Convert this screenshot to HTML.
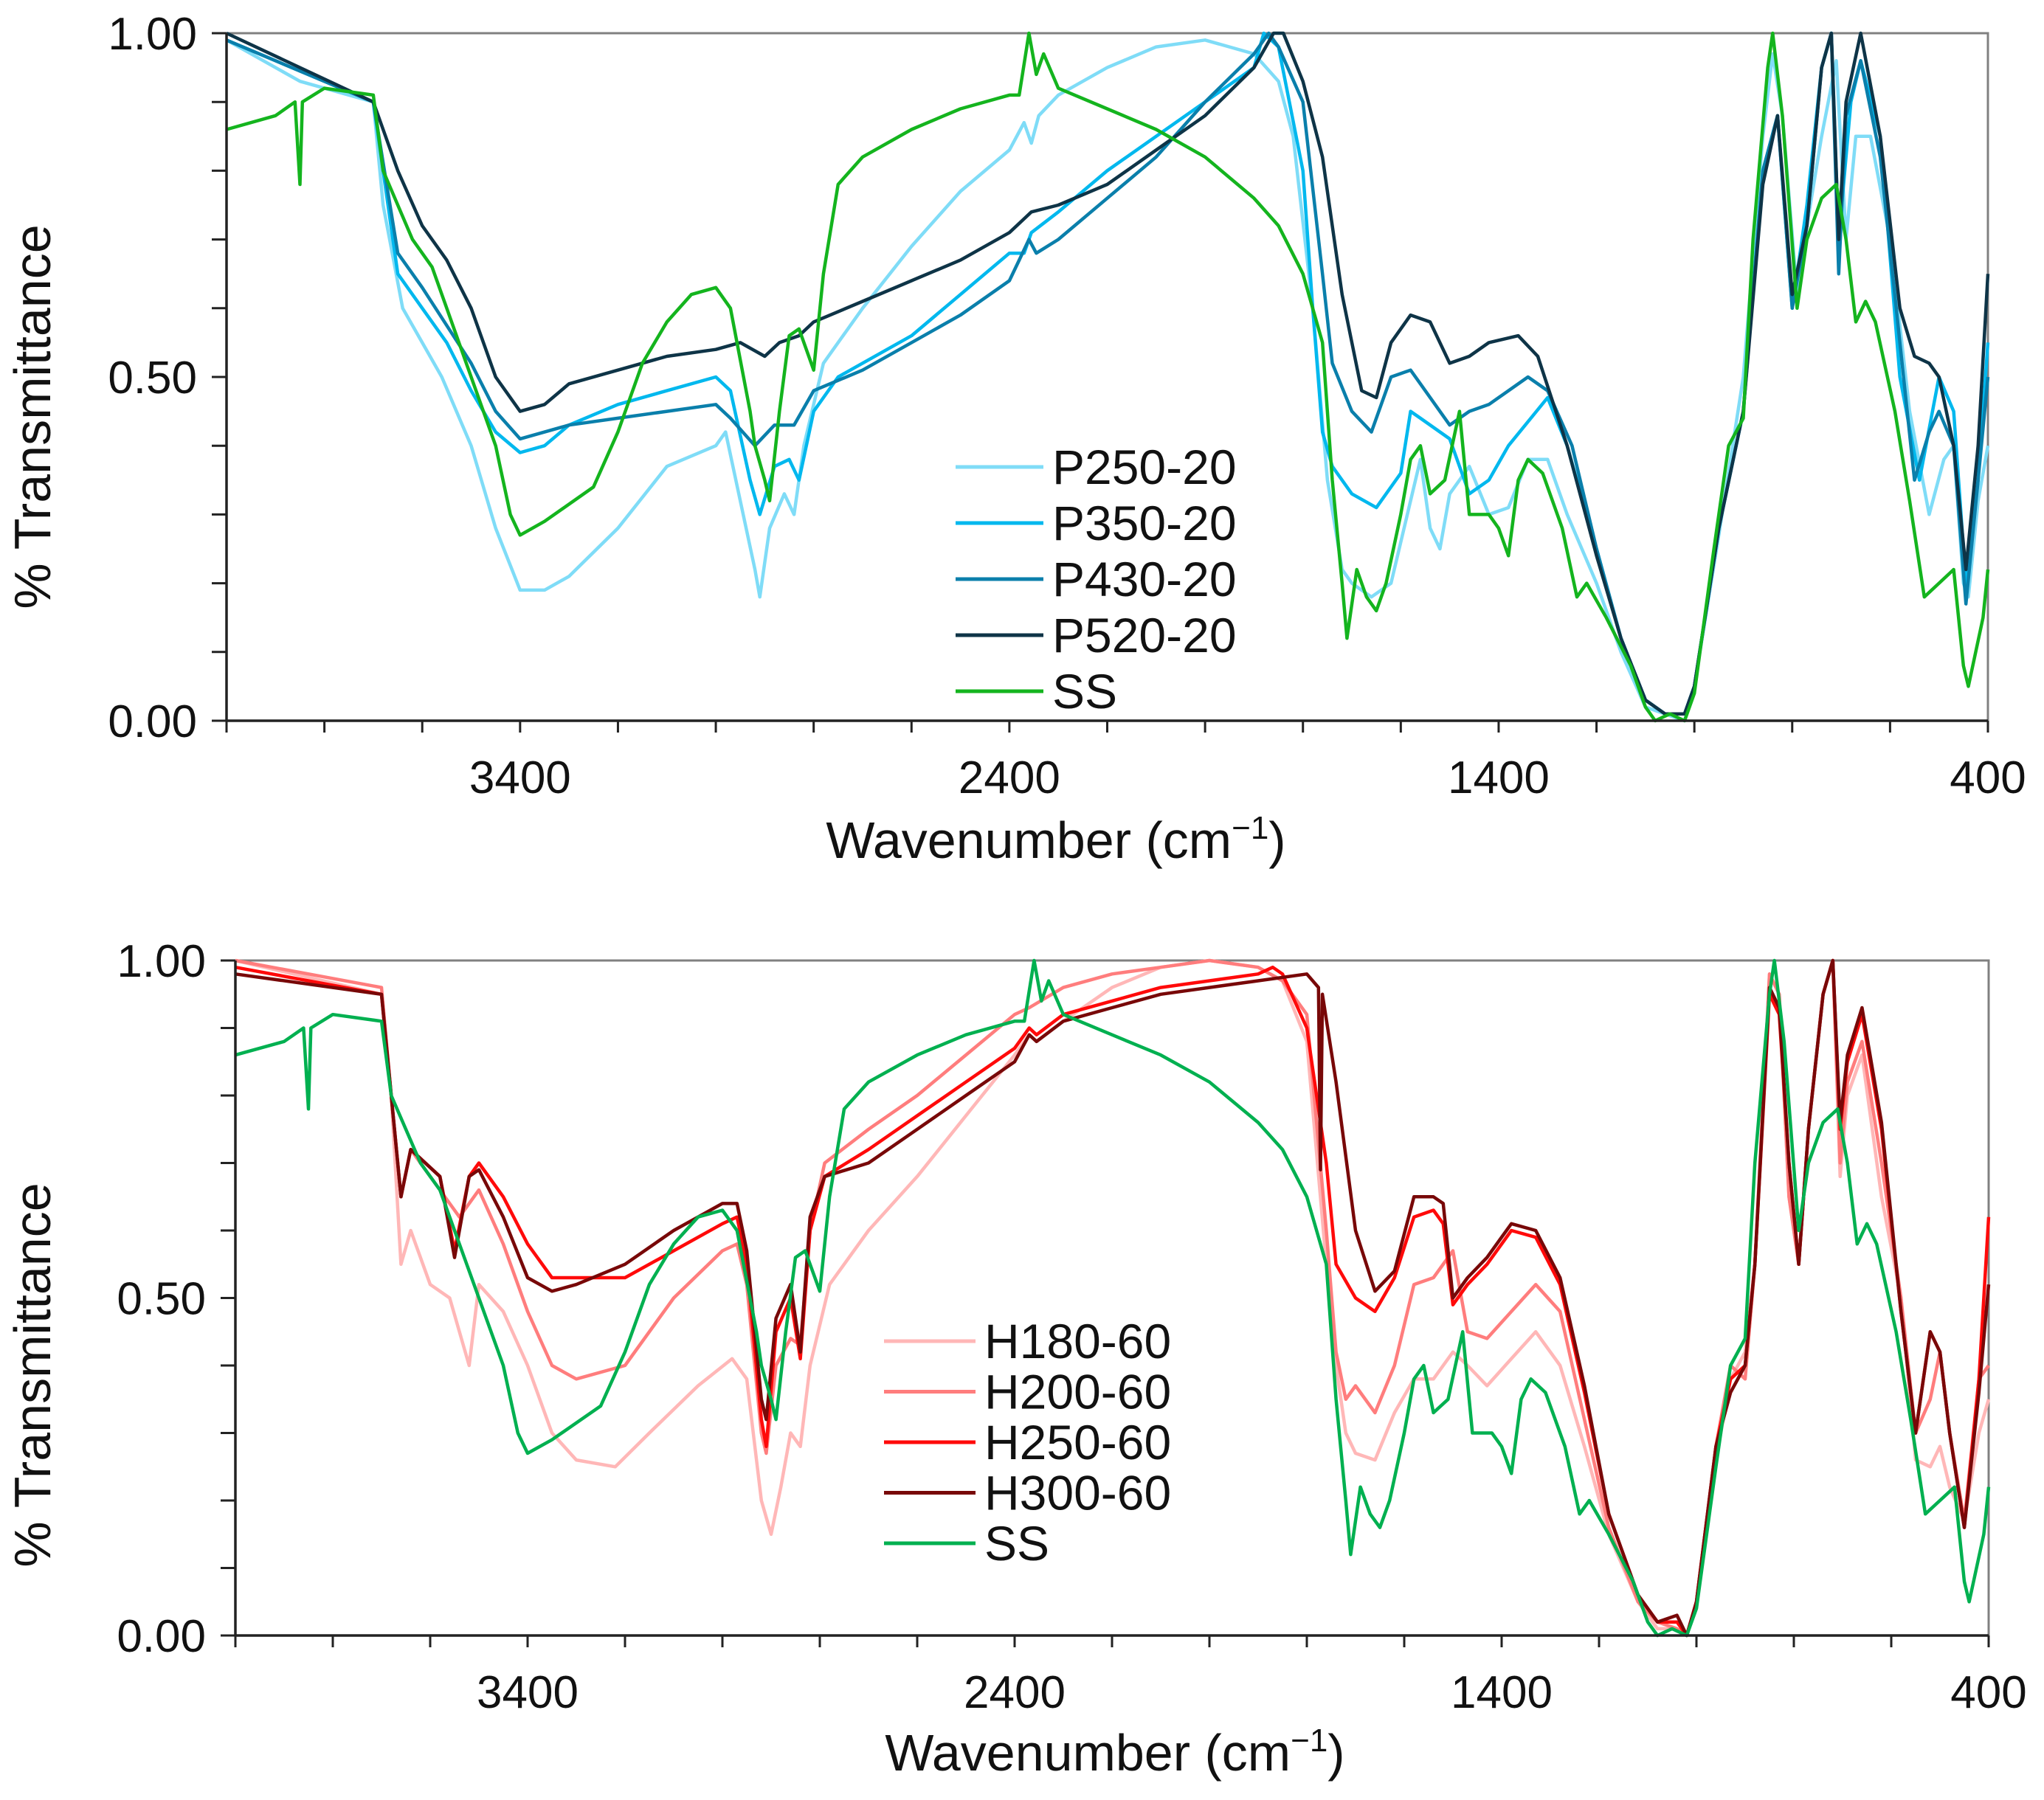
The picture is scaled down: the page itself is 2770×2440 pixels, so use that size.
<!DOCTYPE html>
<html><head><meta charset="utf-8">
<style>
html,body{margin:0;padding:0;background:#fff;}
svg{display:block;font-family:"Liberation Sans",Arial,sans-serif;}
</style></head>
<body>
<svg id="chart" width="2770" height="2440" viewBox="0 0 2770 2440" xmlns="http://www.w3.org/2000/svg"></svg>
<script>
// ---- data: wavenumbers and transmittance per series ----
const ssWn = [4000,3900,3860,3850,3845,3800,3700,3680,3650,3620,3580,3550,3500,3450,3420,3400,3350,3250,3200,3150,3100,3050,3000,2970,2930,2920,2900,2890,2870,2850,2830,2800,2780,2750,2700,2600,2500,2400,2380,2360,2345,2330,2300,2200,2100,2000,1900,1850,1800,1760,1740,1720,1710,1690,1670,1650,1630,1600,1580,1560,1540,1510,1480,1460,1420,1400,1380,1360,1340,1310,1270,1240,1220,1180,1130,1100,1080,1050,1020,1000,960,930,900,880,850,840,820,790,770,740,710,690,670,650,630,590,560,530,500,470,450,440,410,400];
const ssT  = [.86,.88,.90,.78,.90,.92,.91,.80,.75,.70,.66,.60,.50,.40,.30,.27,.29,.34,.42,.52,.58,.62,.63,.60,.45,.40,.35,.32,.45,.56,.57,.51,.65,.78,.82,.86,.89,.91,.91,1.0,.94,.97,.92,.89,.86,.82,.76,.72,.65,.55,.35,.20,.12,.22,.18,.16,.20,.30,.38,.40,.33,.35,.45,.30,.30,.28,.24,.35,.38,.36,.28,.18,.20,.15,.08,.02,0,.01,0,.04,.25,.40,.44,.70,.95,1.0,.88,.60,.70,.76,.78,.70,.58,.61,.58,.45,.32,.18,.20,.22,.08,.05,.15,.22];

const p250Wn = [4000,3850,3700,3680,3640,3600,3560,3500,3450,3400,3350,3300,3200,3100,3000,2980,2950,2920,2910,2890,2860,2840,2820,2780,2700,2600,2500,2400,2370,2355,2340,2300,2200,2100,2000,1900,1850,1820,1780,1750,1720,1700,1660,1620,1580,1560,1540,1520,1500,1460,1420,1380,1340,1300,1260,1200,1150,1100,1060,1020,1000,950,900,860,840,820,790,770,740,710,690,670,640,600,560,520,490,470,450,440,420,400];
const p250T  = [.99,.93,.90,.75,.60,.55,.50,.40,.28,.19,.19,.21,.28,.37,.40,.42,.32,.22,.18,.28,.33,.30,.40,.52,.60,.69,.77,.83,.87,.84,.88,.91,.95,.98,.99,.97,.93,.85,.60,.35,.22,.20,.18,.20,.32,.38,.28,.25,.33,.37,.30,.31,.38,.38,.30,.20,.10,.02,.01,0,.05,.27,.50,.85,.97,.88,.62,.72,.85,.96,.70,.85,.85,.70,.45,.30,.38,.40,.20,.18,.32,.40];

const p350Wn = [4000,3700,3650,3600,3550,3500,3450,3400,3350,3300,3200,3100,3000,2970,2930,2910,2880,2850,2830,2800,2750,2600,2500,2400,2370,2355,2300,2200,2000,1900,1880,1850,1800,1780,1760,1740,1700,1650,1600,1580,1560,1500,1460,1420,1380,1300,1260,1200,1150,1100,1060,1020,1000,950,900,860,830,800,770,740,720,705,680,660,620,580,540,500,470,445,420,400];
const p350T  = [.99,.90,.65,.60,.55,.48,.42,.39,.40,.43,.46,.48,.50,.48,.35,.30,.37,.38,.35,.45,.50,.56,.62,.68,.68,.71,.74,.80,.90,.95,1.0,.98,.80,.60,.42,.37,.33,.31,.36,.45,.44,.41,.33,.35,.40,.47,.40,.25,.12,.03,.01,.01,.05,.28,.45,.80,.88,.60,.75,.95,1.0,.70,.90,.96,.85,.50,.35,.50,.45,.20,.35,.55];

const p430Wn = [4000,3700,3650,3600,3500,3450,3400,3350,3300,3200,3100,3000,2970,2920,2880,2840,2800,2700,2600,2500,2400,2380,2360,2345,2300,2200,2100,2000,1900,1870,1850,1800,1760,1740,1700,1660,1620,1580,1560,1500,1460,1420,1340,1300,1250,1200,1150,1100,1060,1020,1000,950,900,860,830,800,770,740,720,705,690,660,620,580,550,520,500,470,445,420,400];
const p430T  = [.99,.90,.68,.63,.52,.45,.41,.42,.43,.44,.45,.46,.44,.40,.43,.43,.48,.51,.55,.59,.64,.67,.70,.68,.70,.76,.82,.90,.97,1.0,.98,.90,.65,.52,.45,.42,.50,.51,.49,.43,.45,.46,.50,.48,.40,.25,.12,.03,.01,.01,.05,.28,.45,.80,.88,.60,.72,.95,1.0,.65,.88,.96,.82,.55,.35,.42,.45,.40,.17,.35,.50];

const p520Wn = [4000,3700,3650,3600,3550,3500,3450,3400,3350,3300,3200,3100,3000,2950,2900,2870,2830,2800,2700,2600,2500,2400,2370,2355,2300,2200,2100,2000,1900,1860,1840,1800,1760,1720,1680,1650,1620,1580,1540,1500,1460,1420,1360,1320,1260,1200,1150,1100,1060,1020,1000,950,900,860,830,800,770,740,720,705,690,660,620,580,550,520,500,470,445,420,400];
const p520T  = [1.0,.90,.80,.72,.67,.60,.50,.45,.46,.49,.51,.53,.54,.55,.53,.55,.56,.58,.61,.64,.67,.71,.73,.74,.75,.78,.83,.88,.95,1.0,1.0,.93,.82,.62,.48,.47,.55,.59,.58,.52,.53,.55,.56,.53,.40,.24,.12,.03,.01,.01,.05,.28,.45,.78,.88,.62,.72,.95,1.0,.70,.90,1.0,.85,.60,.53,.52,.50,.40,.22,.40,.65];

const h180Wn = [4000,3700,3680,3660,3640,3600,3560,3520,3500,3450,3400,3350,3300,3220,3150,3050,2980,2950,2920,2900,2880,2860,2840,2820,2780,2700,2600,2500,2400,2370,2355,2300,2200,2100,2000,1900,1850,1800,1760,1740,1720,1700,1660,1620,1580,1540,1500,1470,1430,1380,1330,1280,1230,1180,1120,1080,1040,1020,1000,960,930,900,880,850,830,810,790,770,740,720,705,690,660,620,580,550,520,500,480,450,420,400];
const h180T  = [1.0,.95,.80,.55,.60,.52,.50,.40,.52,.48,.40,.30,.26,.25,.30,.37,.41,.38,.20,.15,.22,.30,.28,.40,.52,.60,.68,.77,.86,.89,.88,.91,.96,.99,1.0,.99,.97,.88,.55,.40,.30,.27,.26,.33,.38,.38,.42,.40,.37,.41,.45,.40,.28,.15,.05,.01,.01,0,.05,.26,.38,.42,.55,.98,.95,.65,.55,.75,.95,1.0,.68,.80,.86,.65,.50,.26,.25,.28,.22,.17,.30,.35];

const h200Wn = [4000,3700,3680,3660,3640,3580,3540,3500,3450,3400,3350,3300,3200,3100,3000,2970,2950,2920,2910,2890,2860,2840,2820,2790,2700,2600,2500,2400,2370,2300,2200,2100,2000,1900,1850,1800,1760,1740,1720,1700,1660,1620,1580,1540,1500,1470,1430,1380,1330,1280,1230,1180,1120,1080,1040,1020,1000,960,930,900,880,850,830,810,790,770,740,720,705,690,660,620,580,550,520,500,480,450,420,400];
const h200T  = [1.0,.96,.80,.65,.72,.66,.62,.66,.58,.48,.40,.38,.40,.50,.57,.58,.52,.30,.27,.40,.44,.43,.60,.70,.75,.80,.86,.92,.93,.96,.98,.99,1.0,.99,.97,.92,.60,.42,.35,.37,.33,.40,.52,.53,.57,.45,.44,.48,.52,.48,.32,.16,.05,.02,.01,0,.05,.28,.40,.38,.55,.98,.95,.65,.55,.75,.95,1.0,.70,.82,.88,.70,.50,.30,.35,.42,.30,.17,.38,.40];

const h250Wn = [4000,3700,3680,3660,3640,3580,3550,3520,3500,3450,3400,3350,3300,3200,3100,3000,2970,2950,2920,2910,2890,2860,2840,2820,2790,2700,2600,2500,2400,2370,2355,2300,2200,2100,2000,1900,1870,1850,1800,1760,1740,1700,1660,1620,1580,1540,1520,1500,1470,1430,1380,1330,1280,1230,1180,1120,1080,1040,1020,1000,960,930,900,880,850,830,810,790,770,740,720,705,690,660,620,580,550,520,500,480,450,420,400];
const h250T  = [.99,.95,.80,.65,.72,.68,.57,.68,.70,.65,.58,.53,.53,.53,.57,.61,.62,.55,.32,.28,.45,.50,.41,.60,.68,.72,.77,.82,.87,.90,.89,.92,.94,.96,.97,.98,.99,.98,.90,.70,.55,.50,.48,.53,.62,.63,.61,.49,.52,.55,.60,.59,.52,.36,.18,.06,.02,.02,0,.05,.28,.38,.40,.55,.95,.92,.70,.55,.75,.95,1.0,.75,.85,.92,.75,.48,.30,.45,.42,.30,.16,.38,.62];

const h300Wn = [4000,3700,3680,3660,3640,3580,3550,3520,3500,3450,3400,3350,3300,3200,3100,3000,2970,2950,2920,2910,2890,2860,2840,2820,2790,2700,2600,2500,2400,2370,2355,2300,2200,2100,2000,1900,1800,1776,1772,1768,1740,1700,1660,1620,1580,1540,1520,1500,1470,1430,1380,1330,1280,1230,1180,1120,1080,1040,1020,1000,960,930,900,880,850,830,810,790,770,740,720,705,690,660,620,580,550,520,500,480,450,420,400];
const h300T  = [.98,.95,.80,.65,.72,.68,.56,.68,.69,.62,.53,.51,.52,.55,.60,.64,.64,.57,.35,.32,.47,.52,.42,.62,.68,.70,.75,.80,.85,.89,.88,.91,.93,.95,.96,.97,.98,.96,.69,.95,.82,.60,.51,.54,.65,.65,.64,.50,.53,.56,.61,.60,.53,.37,.18,.06,.02,.03,0,.05,.28,.36,.40,.55,.96,.93,.70,.55,.75,.95,1.0,.76,.86,.93,.76,.48,.30,.45,.42,.30,.16,.36,.52];

const xTickLabels = [3400, 2400, 1400, 400];
const yTickLabels = ["0.00", "0.50", "1.00"];

const NS = "http://www.w3.org/2000/svg";
const svg = document.getElementById("chart");
function mk(tag, attrs, parent) {
  const e = document.createElementNS(NS, tag);
  for (const k in attrs) e.setAttribute(k, attrs[k]);
  (parent || svg).appendChild(e);
  return e;
}

function panel(cfg) {
  const g = mk("g", {});
  
  
  const sx = w => cfg.x0 + (4000 - w) / 3600 * (cfg.x1 - cfg.x0);
  const sy = v => cfg.yb - v * (cfg.yb - cfg.yt);
  const fr = mk("rect", {x: cfg.x0, y: cfg.yt, width: cfg.x1 - cfg.x0, height: cfg.yb - cfg.yt, fill: "none", stroke: "#808080", "stroke-width": 3}, g);
  
  
  cfg.series.forEach(s => {
    let d = "";
    s.wn.forEach((w, i) => { d += (i ? "L" : "M") + sx(w).toFixed(1) + "," + sy(Math.min(1, Math.max(0, s.t[i]))).toFixed(1); });
    const p = mk("path", {d: d, fill: "none", stroke: s.color, "stroke-width": 4.5, "stroke-linejoin": "round"}, g);
    
    
  });
  const ax = mk("line", {x1: cfg.x0, y1: cfg.yb, x2: cfg.x1, y2: cfg.yb, stroke: "#222", "stroke-width": 3.5}, g);
  
  
  const ay = mk("line", {x1: cfg.x0, y1: cfg.yt, x2: cfg.x0, y2: cfg.yb, stroke: "#222", "stroke-width": 3.5}, g);
  
  
  for (let w = 4000; w >= 400; w -= 200) {
    const t = mk("line", {x1: sx(w), y1: cfg.yb, x2: sx(w), y2: cfg.yb + 16, stroke: "#222", "stroke-width": 3}, g);
    
    
  }
  xTickLabels.forEach(w => {
    const t = mk("text", {x: sx(w), y: cfg.yb + 98, "font-size": 62, "text-anchor": "middle", fill: "#111"}, g);
    t.textContent = w;
    
    
  });
  for (let k = 0; k <= 10; k++) {
    const t = mk("line", {x1: cfg.x0 - 20, y1: sy(k / 10), x2: cfg.x0, y2: sy(k / 10), stroke: "#222", "stroke-width": 3}, g);
    
    
  }
  yTickLabels.forEach(l => {
    const t = mk("text", {x: cfg.x0 - 40, y: sy(parseFloat(l)) + 22, "font-size": 62, "text-anchor": "end", fill: "#111"}, g);
    t.textContent = l;
    
    
  });
  const yt = mk("text", {x: 0, y: 0, "font-size": 70, "text-anchor": "middle", fill: "#111", transform: "translate(" + cfg.ytx + "," + cfg.yty + ") rotate(-90)"}, g);
  yt.textContent = "% Transmittance";
  
  
  const xt = mk("text", {x: cfg.xtx, y: cfg.xty, "font-size": 70, "text-anchor": "middle", fill: "#111"}, g);
  xt.innerHTML = 'Wavenumber (cm<tspan dy="-26" font-size="44">−1</tspan><tspan dy="26">)</tspan>';
  
  
  const lg = mk("g", {}, g);
  
  
  cfg.series.forEach((s, i) => {
    const y = cfg.ly + i * cfg.lstep;
    const l = mk("line", {x1: cfg.lx0, y1: y, x2: cfg.lx1, y2: y, stroke: s.color, "stroke-width": 5}, lg);
    
    
    const t = mk("text", {x: cfg.lx1 + 12, y: y + 23, "font-size": 66, fill: "#111"}, lg);
    t.textContent = s.label;
    
    
  });
}

panel({name: "top-panel", x0: 307, x1: 2694, yt: 45, yb: 977, ytx: 68, yty: 565, xtx: 1431, xty: 1163,
  lx0: 1295, lx1: 1414, ly: 633, lstep: 76,
  series: [
    {key: "p250-20", label: "P250-20", color: "#7fdcf7", wn: p250Wn, t: p250T},
    {key: "p350-20", label: "P350-20", color: "#00b8ee", wn: p350Wn, t: p350T},
    {key: "p430-20", label: "P430-20", color: "#0a7fab", wn: p430Wn, t: p430T},
    {key: "p520-20", label: "P520-20", color: "#0e3447", wn: p520Wn, t: p520T},
    {key: "ss", label: "SS", color: "#14b41e", wn: ssWn, t: ssT}
  ]});

panel({name: "bottom-panel", x0: 319, x1: 2695, yt: 1302, yb: 2217, ytx: 68, yty: 1864, xtx: 1511, xty: 2400,
  lx0: 1198, lx1: 1322, ly: 1818, lstep: 68.5,
  series: [
    {key: "h180-60", label: "H180-60", color: "#ffb7b7", wn: h180Wn, t: h180T},
    {key: "h200-60", label: "H200-60", color: "#ff7d7d", wn: h200Wn, t: h200T},
    {key: "h250-60", label: "H250-60", color: "#ff0a0a", wn: h250Wn, t: h250T},
    {key: "h300-60", label: "H300-60", color: "#780808", wn: h300Wn, t: h300T},
    {key: "ss", label: "SS", color: "#00b050", wn: ssWn, t: ssT}
  ]});
</script>
</body></html>
